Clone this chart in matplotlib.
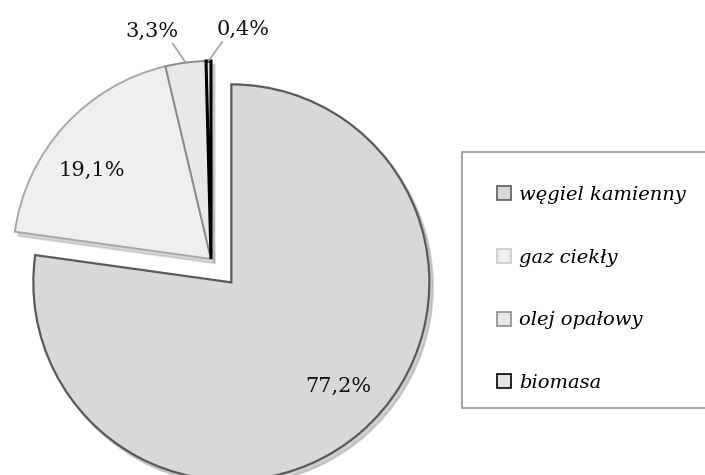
import matplotlib.pyplot as plt
import numpy as np
from matplotlib.patches import Patch, Rectangle

### data
labels = ["węgiel kamienny", "gaz ciekły", "olej opałowy", "biomasa"]
shares = [77.2, 19.1, 3.3, 0.4]

### styles
face_colors = ["#d8d8d8", "#efefef", "#e8e8e8", "#e3e3e3"]
edge_colors = ["#5a5a5a", "#a8a8a8", "#8a8a8a", "#000000"]
edge_widths = [1.6, 1.4, 1.4, 2.2]
explode = [31, 0, 0, 0]  # pie() takes this in data units (pixels here)
label_nudge = [(9, 8), (-9, -11)]  # small shifts of the inside labels, px

W, H = 705, 475
plt.rcParams['font.family'] = ['DejaVu Serif']

fig = plt.figure(figsize=(W / 100, H / 100), dpi=100)
ax = fig.add_axes([0, 0, 1, 1])

radius = 198
center = (211, H - 259)

wedges, texts, autotexts = ax.pie(
       shares, radius=radius, center=center, explode=explode,
       startangle=90, counterclock=False, colors=face_colors,
       autopct=lambda p: f"{p:.1f}%".replace(".", ","), pctdistance=0.75,
       shadow={'ox': 2.5, 'oy': -3, 'shade': 0.25},
       wedgeprops=dict(linewidth=1.5), textprops=dict(fontsize=15, color="#111111"),
       frame=True)
ax.set_xlim(0, W)
ax.set_ylim(0, H)
ax.set_aspect('equal')
ax.axis('off')

for w, ec, lw in zip(wedges, edge_colors, edge_widths):
       w.set_edgecolor(ec)
       w.set_linewidth(lw)

for t, (dx, dy) in zip(autotexts, label_nudge):
       x, y = t.get_position()
       t.set_position((x + dx, y + dy))

# the two small slices get outside labels with leader lines
offsets = {2: (-34, 22), 3: (35, 22)}
for i, (dx, dy) in offsets.items():
       w = wedges[i]
       mid = np.deg2rad((w.theta1 + w.theta2) / 2)
       cx, cy = w.center
       px = cx + radius * np.cos(mid)
       py = cy + radius * np.sin(mid)
       autotexts[i].set_visible(False)
       ax.annotate(autotexts[i].get_text(), xy=(px, py), xytext=(px + dx, py + dy),
                   ha='center', va='bottom', fontsize=15, color="#111111",
                   arrowprops=dict(arrowstyle='-', color='#a0a0a0', lw=1.2,
                                   shrinkA=0, shrinkB=0,
                                   relpos=(0.85 if dx < 0 else 0.15, 0.05)))

# legend box (runs off the right edge like the original)
fig.add_artist(Rectangle((462 / W, 1 - 408 / H), 260 / W, 256 / H,
                         transform=fig.transFigure, facecolor='white',
                         edgecolor='#a6a6a6', linewidth=1.5, zorder=1))

handles = [Patch(facecolor=fc, edgecolor=ec, linewidth=1.2)
           for fc, ec in zip(face_colors, edge_colors)]
handles[1].set_edgecolor('#c8c8c8')
leg = fig.legend(handles, labels, loc='upper left',
                 bbox_to_anchor=(497 / W, 1 - 186 / H),
                 borderaxespad=0, borderpad=0, frameon=False,
                 prop=dict(style='italic', size=14),
                 handlelength=0.72, handleheight=0.72, handletextpad=0.4,
                 labelspacing=2.3)
leg.set_zorder(2)

fig.savefig('out.png', dpi=100, facecolor='white')
